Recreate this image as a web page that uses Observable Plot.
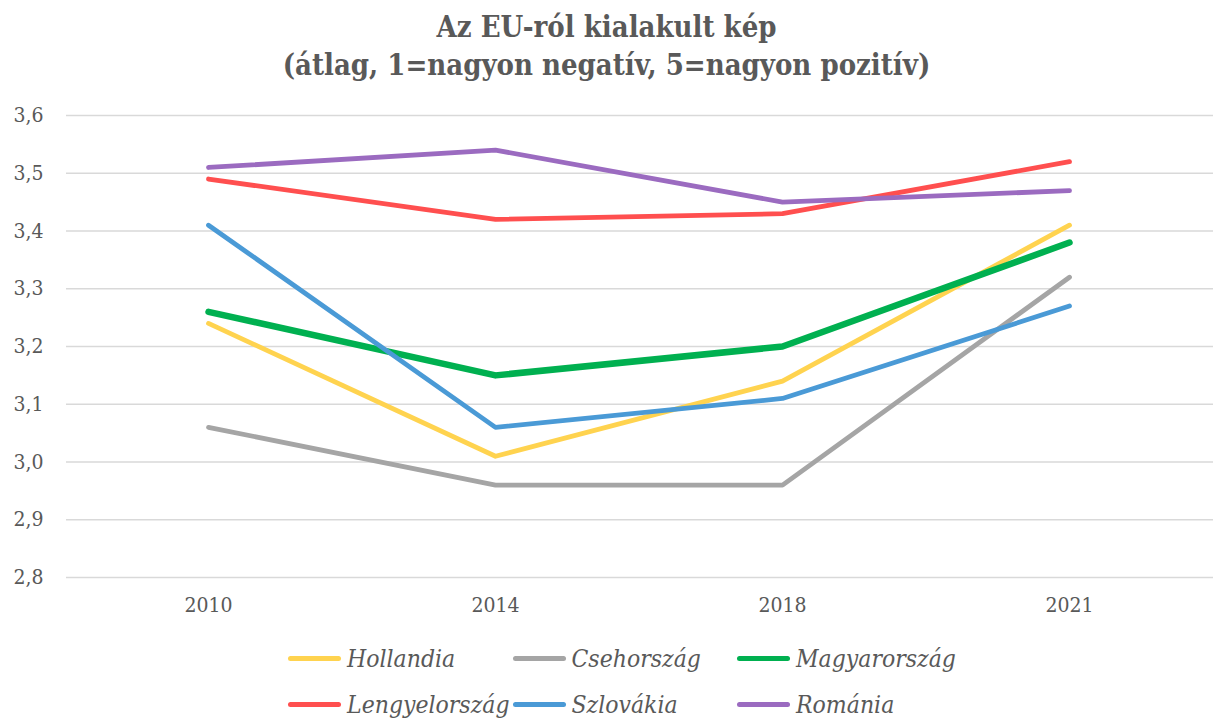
<!DOCTYPE html>
<html>
<head>
<meta charset="utf-8">
<script src="https://cdn.jsdelivr.net/npm/d3@7"></script>
<script src="https://cdn.jsdelivr.net/npm/@observablehq/plot@0.6"></script>
<style>
  html, body { margin: 0; padding: 0; background: #fff; }
  body { width: 1213px; height: 720px; overflow: hidden; font-family: "DejaVu Serif Condensed", "DejaVu Serif", serif; color: #595959; }
  #title { height: 95px; text-align: center; font-weight: bold; font-size: 29px; line-height: 38px; padding-top: 8px; box-sizing: border-box; }
  #legend { position: relative; height: 90px; }
  .item { position: absolute; display: flex; align-items: center; font-style: italic; font-size: 24.5px; }
  .sw { width: 53px; height: 5px; border-radius: 3px; margin-right: 6px; }
</style>
</head>
<body>
<div id="title">Az EU-ról kialakult kép<br>(átlag, 1=nagyon negatív, 5=nagyon pozitív)</div>
<div id="chart"></div>
<div id="legend"></div>
<script>
const years = ["2010", "2014", "2018", "2021"];
const countries = ["Hollandia", "Csehország", "Magyarország", "Lengyelország", "Szlovákia", "Románia"];
const colors = ["#FFD34F", "#A5A5A5", "#00B050", "#FF4F4F", "#4A9AD6", "#9B6BC0"];
const widths = [4.8, 4.8, 6.5, 4.8, 4.8, 4.8];
const hollandia = [3.24, 3.01, 3.14, 3.41];
const csehorszag = [3.06, 2.96, 2.96, 3.32];
const magyarorszag = [3.26, 3.15, 3.20, 3.38];
const lengyelorszag = [3.49, 3.42, 3.43, 3.52];
const szlovakia = [3.41, 3.06, 3.11, 3.27];
const romania = [3.51, 3.54, 3.45, 3.47];
const yTicks = [2.8, 2.9, 3.0, 3.1, 3.2, 3.3, 3.4, 3.5, 3.6];

const seriesValues = [hollandia, csehorszag, magyarorszag, lengyelorszag, szlovakia, romania];
const data = [];
seriesValues.forEach((vals, i) => vals.forEach((v, j) => data.push({country: countries[i], year: years[j], value: v})));

const lineMarks = countries.map((c, i) => Plot.line(data.filter(d => d.country === c), {
  x: "year", y: "value", stroke: colors[i], strokeWidth: widths[i],
  strokeLinecap: "round", strokeLinejoin: "round"
}));

const chart = Plot.plot({
  width: 1213,
  height: 535,
  marginTop: 20,
  marginBottom: 53,
  marginLeft: 64,
  marginRight: 0,
  style: { fontFamily: '"DejaVu Serif Condensed", "DejaVu Serif", serif', fontSize: "21px", color: "#595959", background: "#fff" },
  x: { type: "point", domain: years, padding: 0.5, label: null, tickSize: 0, tickPadding: 20 },
  y: { domain: [2.8, 3.6], ticks: yTicks, label: null, tickSize: 0, tickPadding: 21,
       tickFormat: d => d.toFixed(1).replace(".", ",") },
  marks: [
    Plot.ruleY(yTicks, { stroke: "#D9D9D9", strokeWidth: 1.5, insetLeft: 2 }),
    ...lineMarks
  ]
});
document.getElementById("chart").appendChild(chart);

const legend = document.getElementById("legend");
countries.forEach((c, i) => {
  const el = document.createElement("div");
  el.className = "item";
  const col = i % 3, row = Math.floor(i / 3);
  el.style.left = (288 + col * 224.5) + "px";
  el.style.top = (row * 46 + 14) + "px";
  el.innerHTML = `<span class="sw" style="background:${colors[i]}"></span><span>${c}</span>`;
  legend.appendChild(el);
});
</script>
</body>
</html>
